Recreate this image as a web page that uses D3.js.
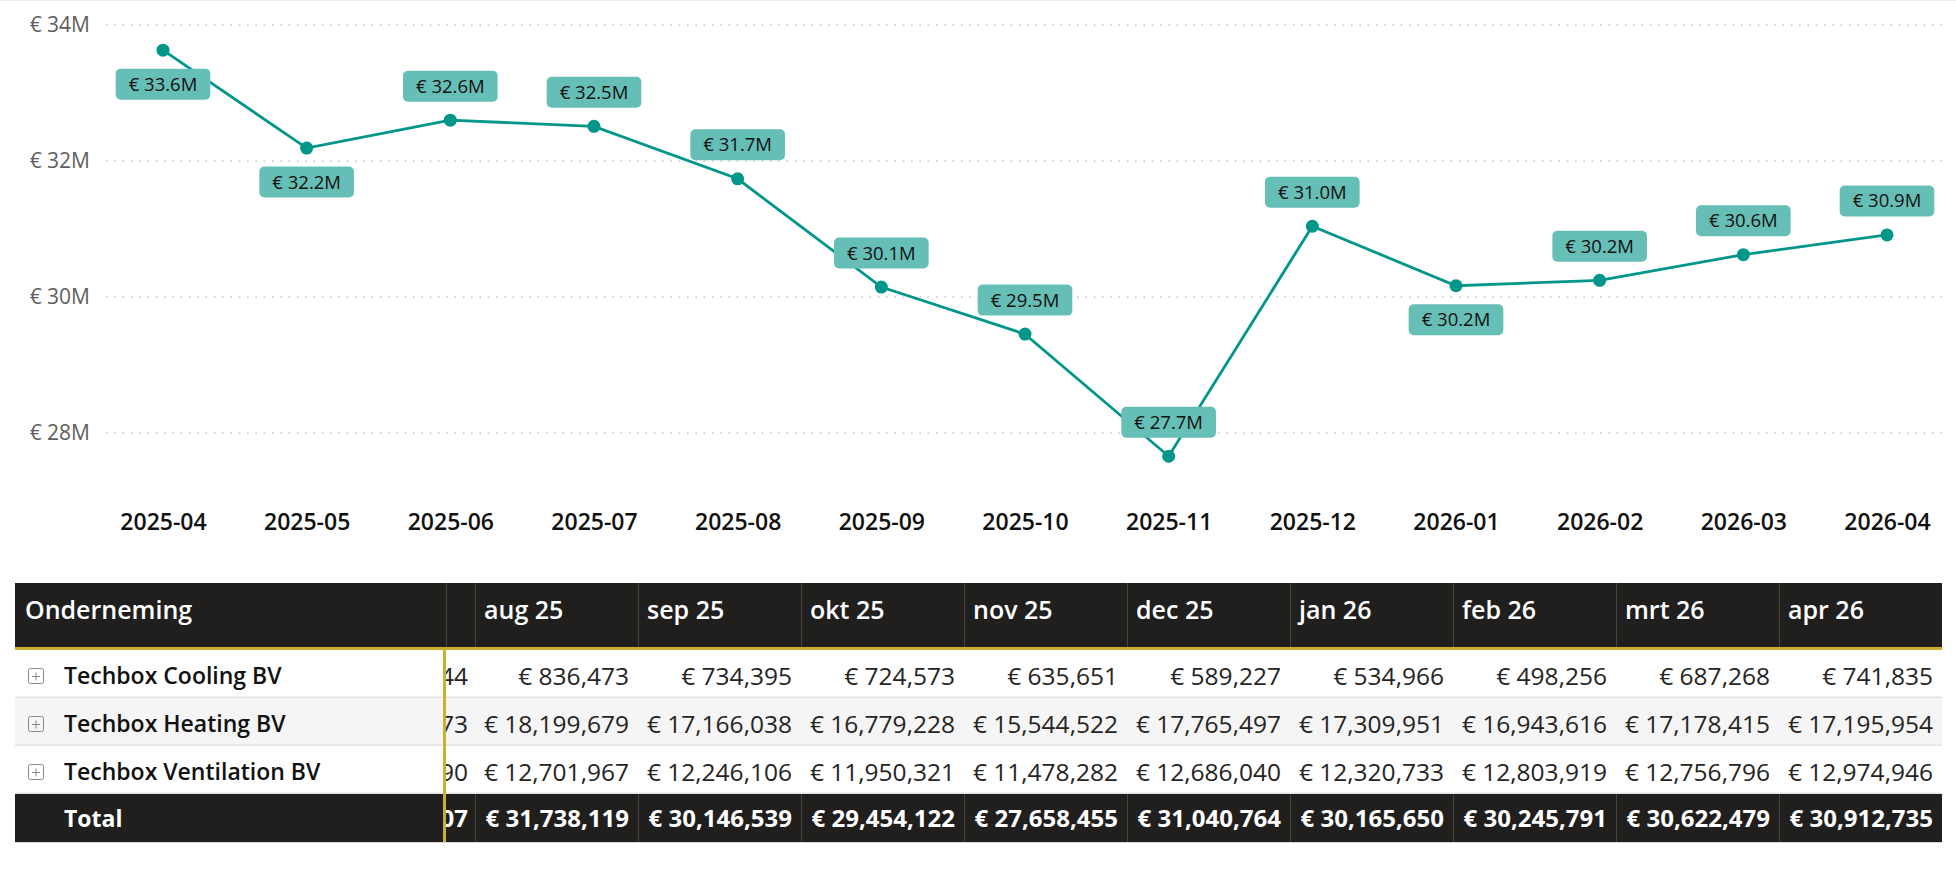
<!DOCTYPE html>
<html>
<head>
<meta charset="utf-8">
<script src="https://cdn.jsdelivr.net/npm/d3@7"></script>
<style>
  body { margin: 0; background: #fff; }
  svg { display: block; font-family: "Segoe UI", "Open Sans", sans-serif; }
</style>
</head>
<body>
<svg id="chart" width="1956" height="870"></svg>
<script>
// line chart data (total per month)
var months = ['2025-04', '2025-05', '2025-06', '2025-07', '2025-08', '2025-09', '2025-10',
              '2025-11', '2025-12', '2026-01', '2026-02', '2026-03', '2026-04'];
var totals = [33630000, 32190000, 32600000, 32510000, 31738119, 30146539, 29454122,
              27658455, 31040764, 30165650, 30245791, 30622479, 30912735];
var labelSide = ['below', 'below', 'above', 'above', 'above', 'above', 'above',
                 'above', 'above', 'below', 'above', 'above', 'above'];
var yTicks = [28000000, 30000000, 32000000, 34000000];

// matrix data
var companies = ['Techbox Cooling BV', 'Techbox Heating BV', 'Techbox Ventilation BV'];
var tableMonths = ['aug 25', 'sep 25', 'okt 25', 'nov 25', 'dec 25', 'jan 26', 'feb 26', 'mrt 26', 'apr 26'];
var cooling = [836473, 734395, 724573, 635651, 589227, 534966, 498256, 687268, 741835];
var heating = [18199679, 17166038, 16779228, 15544522, 17765497, 17309951, 16943616, 17178415, 17195954];
var ventilation = [12701967, 12246106, 11950321, 11478282, 12686040, 12320733, 12803919, 12756796, 12974946];
var totalRow = totals.slice(4);
// the scrolled-away column only shows its last digits
var cutTail = ['44', '73', '90', '07'];

var svg = d3.select('#chart');
var teal = '#00968a';

svg.append('line')
    .attr('x1', 0).attr('x2', 1956).attr('y1', 0.5).attr('y2', 0.5)
    .style('stroke', '#ececec');

var x = d3.scalePoint()
    .domain(months)
    .range([163, 1887]);

var y = d3.scaleLinear()
    .domain([28000000, 34000000])
    .range([433, 25]);

// grid + y labels
var grid = svg.append('g');
grid.selectAll('line')
    .data(yTicks)
    .join('line')
    .attr('x1', 106)
    .attr('x2', 1943)
    .attr('y1', d => y(d))
    .attr('y2', d => y(d))
    .style('stroke', '#c4c4c4')
    .style('stroke-width', 1.5)
    .style('stroke-dasharray', '1.5,6.8');

grid.selectAll('text')
    .data(yTicks)
    .join('text')
    .attr('x', 90)
    .attr('y', d => y(d))
    .attr('dy', '0.35em')
    .attr('text-anchor', 'end')
    .style('font-size', '21px')
    .style('fill', '#605e5c')
    .text(d => '€ ' + d / 1000000 + 'M');

// x axis
var xAxis = d3.axisBottom(x).tickSize(0).tickPadding(0);
var xg = svg.append('g')
    .attr('transform', 'translate(0,522)')
    .call(xAxis);
xg.select('.domain').remove();
xg.selectAll('text')
    .attr('dy', '0.35em')
    .style('font-family', '"Segoe UI", "Open Sans", sans-serif')
    .style('font-size', '23px')
    .style('font-weight', 600)
    .style('fill', '#111');

// line and points
var line = d3.line()
    .x((d, i) => x(months[i]))
    .y(d => y(d));

svg.append('path')
    .datum(totals)
    .attr('d', line)
    .style('fill', 'none')
    .style('stroke', teal)
    .style('stroke-width', 2.8);

svg.append('g').selectAll('circle')
    .data(totals)
    .join('circle')
    .attr('cx', (d, i) => x(months[i]))
    .attr('cy', d => y(d))
    .attr('r', 6.5)
    .style('fill', teal);

// data labels
var labels = svg.append('g').selectAll('g')
    .data(totals)
    .join('g')
    .attr('transform', (d, i) => 'translate(' + x(months[i]) + ',' +
        (y(d) + (labelSide[i] == 'above' ? -34 : 34)) + ')');

labels.append('rect')
    .attr('rx', 5)
    .attr('y', -15.5)
    .attr('height', 31)
    .style('fill', '#66bfb6');

labels.append('text')
    .attr('text-anchor', 'middle')
    .attr('dy', '0.35em')
    .style('font-size', '18.5px')
    .style('fill', '#111')
    .text(d => '€ ' + (d / 1000000).toFixed(1) + 'M');

labels.each(function() {
    var g = d3.select(this);
    var w = g.select('text').node().getComputedTextLength() + 26;
    g.select('rect').attr('x', -w / 2).attr('width', w);
});

// ---------- matrix ----------
var tbl = {left: 15, right: 1942, top: 583, head: 64, row: 48};
var frozen = 446, cutEnd = 475;
var col = d3.scaleBand()
    .domain(tableMonths)
    .range([cutEnd, tbl.right]);
var fmt = d3.format(',');
var rows = [cooling, heating, ventilation];
var bodyTop = tbl.top + tbl.head + 3;

var table = svg.append('g');

table.append('rect')
    .attr('x', tbl.left).attr('y', tbl.top)
    .attr('width', tbl.right - tbl.left).attr('height', tbl.head)
    .style('fill', '#201f1e');

// header separators
var seps = [frozen, cutEnd].concat(tableMonths.slice(1).map(m => col(m)));
table.selectAll('line.hsep')
    .data(seps)
    .join('line')
    .attr('class', 'hsep')
    .attr('x1', d => d + 0.5).attr('x2', d => d + 0.5)
    .attr('y1', tbl.top).attr('y2', tbl.top + tbl.head)
    .style('stroke', '#45443f');

table.append('text')
    .attr('x', 25).attr('y', tbl.top + 36)
    .style('font-size', '25px').style('font-weight', 600).style('fill', '#fff')
    .text('Onderneming');

table.selectAll('text.mh')
    .data(tableMonths)
    .join('text')
    .attr('class', 'mh')
    .attr('x', d => col(d) + 9)
    .attr('y', tbl.top + 36)
    .style('font-size', '25px').style('font-weight', 600).style('fill', '#fff')
    .text(d => d);

table.append('rect')
    .attr('x', tbl.left).attr('y', tbl.top + tbl.head)
    .attr('width', tbl.right - tbl.left).attr('height', 3)
    .style('fill', '#c9b02f');

// body rows
var clip = svg.append('defs').append('clipPath').attr('id', 'cut');
clip.append('rect').attr('x', frozen).attr('y', 0).attr('width', cutEnd - frozen).attr('height', 870);

companies.forEach(function(name, r) {
    var top = bodyTop + r * tbl.row;
    var cy = top + tbl.row / 2;
    var ty = cy + 2;
    table.append('rect')
        .attr('x', tbl.left).attr('y', top)
        .attr('width', tbl.right - tbl.left).attr('height', tbl.row)
        .style('fill', r == 1 ? '#f5f5f5' : '#fff');
    table.append('line')
        .attr('x1', tbl.left).attr('x2', tbl.right)
        .attr('y1', top + tbl.row - 0.5).attr('y2', top + tbl.row - 0.5)
        .style('stroke', '#e3e3e3').style('stroke-width', 2);

    // expand icon
    table.append('rect')
        .attr('x', 28.5).attr('y', ty - 7.5).attr('width', 15).attr('height', 15).attr('rx', 2)
        .style('fill', 'none').style('stroke', '#8a8886');
    table.append('path')
        .attr('d', 'M32,' + (ty + 0.5) + 'H40M36,' + (ty - 3.5) + 'V' + (ty + 4.5))
        .style('stroke', '#8a8886');

    table.append('text')
        .attr('x', 64).attr('y', ty).attr('dy', '0.35em')
        .style('font-size', '23px').style('font-weight', 600).style('fill', '#111')
        .text(name);

    table.append('text')
        .attr('x', 468).attr('y', ty).attr('dy', '0.35em')
        .attr('text-anchor', 'end').attr('clip-path', 'url(#cut)')
        .style('font-size', '24.5px').style('fill', '#252423')
        .text(cutTail[r]);

    table.selectAll(null)
        .data(rows[r])
        .join('text')
        .attr('x', (d, i) => col(tableMonths[i]) + col.bandwidth() - 9)
        .attr('y', ty).attr('dy', '0.35em')
        .attr('text-anchor', 'end')
        .style('font-size', '24.5px').style('fill', '#252423')
        .text(d => '€ ' + fmt(d));
});

// total row
var tTop = bodyTop + companies.length * tbl.row;
var tcy = tTop + tbl.row / 2 + 1;
table.append('rect')
    .attr('x', tbl.left).attr('y', tTop)
    .attr('width', tbl.right - tbl.left).attr('height', tbl.row)
    .style('fill', '#201f1e');
table.append('line')
    .attr('x1', tbl.left).attr('x2', tbl.right)
    .attr('y1', tTop + tbl.row + 0.5).attr('y2', tTop + tbl.row + 0.5)
    .style('stroke', '#d6d6d6');
table.selectAll('line.tsep')
    .data(seps.slice(1))
    .join('line')
    .attr('class', 'tsep')
    .attr('x1', d => d + 0.5).attr('x2', d => d + 0.5)
    .attr('y1', tTop).attr('y2', tTop + tbl.row)
    .style('stroke', '#45443f');
table.append('text')
    .attr('x', 64).attr('y', tcy).attr('dy', '0.35em')
    .style('font-size', '23px').style('font-weight', 700).style('fill', '#fff')
    .text('Total');
table.append('text')
    .attr('x', 468).attr('y', tcy).attr('dy', '0.35em')
    .attr('text-anchor', 'end').attr('clip-path', 'url(#cut)')
    .style('font-size', '24px').style('font-weight', 700).style('fill', '#fff')
    .text(cutTail[3]);
table.selectAll('text.tot')
    .data(totalRow)
    .join('text')
    .attr('class', 'tot')
    .attr('x', (d, i) => col(tableMonths[i]) + col.bandwidth() - 9)
    .attr('y', tcy).attr('dy', '0.35em')
    .attr('text-anchor', 'end')
    .style('font-size', '24px').style('font-weight', 700).style('fill', '#fff')
    .text(d => '€ ' + fmt(d));

// frozen pane divider
table.append('rect')
    .attr('x', 443).attr('y', bodyTop)
    .attr('width', 3).attr('height', tTop + tbl.row - bodyTop)
    .style('fill', '#c9b02f');
</script>
</body>
</html>
